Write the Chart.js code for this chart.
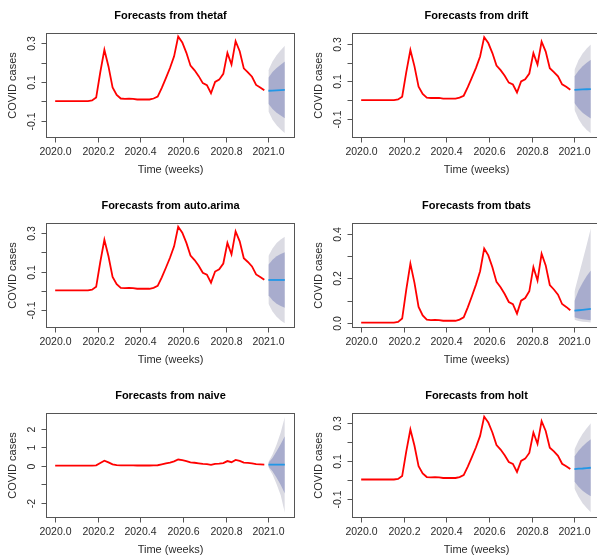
<!DOCTYPE html>
<html>
<head>
<meta charset="utf-8">
<script src="https://cdn.jsdelivr.net/npm/chart.js@4.4.1/dist/chart.umd.min.js"></script>
<style>
  html, body { margin: 0; padding: 0; background: #fff; width: 597px; height: 557px; overflow: hidden; }
  body { position: relative; }
  canvas { position: absolute; }
</style>
</head>
<body>
<canvas id="thetaf" width="300" height="190" style="left:0px;top:-7px"></canvas>
<canvas id="drift" width="300" height="190" style="left:306px;top:-7px"></canvas>
<canvas id="arima" width="300" height="190" style="left:0px;top:183px"></canvas>
<canvas id="tbats" width="300" height="190" style="left:306px;top:183px"></canvas>
<canvas id="naive" width="300" height="190" style="left:0px;top:373px"></canvas>
<canvas id="holt" width="300" height="190" style="left:306px;top:373px"></canvas>
<script>
// serie semanal (frecuencia 52, empieza en 2020.0)
const casosCovid = [0.002, 0.002, 0.002, 0.002, 0.002, 0.002, 0.002, 0.002, 0.002, 0.005,
    0.02, 0.15, 0.266, 0.18, 0.072, 0.034, 0.015, 0.013, 0.014, 0.013,
    0.010, 0.010, 0.010, 0.010, 0.015, 0.025, 0.07, 0.12, 0.172, 0.232,
    0.334, 0.303, 0.25, 0.184, 0.16, 0.13, 0.094, 0.084, 0.042, 0.10,
    0.112, 0.142, 0.25, 0.19, 0.31, 0.258, 0.17, 0.15, 0.127, 0.085,
    0.072, 0.057];

// pronosticos a 5 semanas: media, 80% y 95%
const thetafMedia = [0.055, 0.056, 0.057, 0.058, 0.059];
const thetafLo80 = [-0.012, -0.039, -0.058, -0.073, -0.087];
const thetafHi80 = [0.122, 0.151, 0.172, 0.189, 0.205];
const thetafLo95 = [-0.050, -0.094, -0.123, -0.145, -0.163];
const thetafHi95 = [0.160, 0.206, 0.237, 0.263, 0.287];

const driftMedia = [0.056, 0.057, 0.058, 0.059, 0.060];
const driftLo80 = [-0.014, -0.043, -0.065, -0.081, -0.095];
const driftHi80 = [0.126, 0.157, 0.181, 0.199, 0.215];
const driftLo95 = [-0.049, -0.098, -0.132, -0.156, -0.173];
const driftHi95 = [0.161, 0.212, 0.248, 0.274, 0.295];

const arimaMedia = [0.056, 0.056, 0.056, 0.056, 0.056];
const arimaLo80 = [-0.024, -0.050, -0.068, -0.080, -0.089];
const arimaHi80 = [0.136, 0.162, 0.180, 0.192, 0.201];
const arimaLo95 = [-0.069, -0.109, -0.137, -0.156, -0.170];
const arimaHi95 = [0.181, 0.221, 0.249, 0.268, 0.282];

const tbatsMedia = [0.055, 0.057, 0.059, 0.061, 0.063];
const tbatsLo80 = [0.026, 0.020, 0.017, 0.014, 0.012];
const tbatsHi80 = [0.098, 0.145, 0.180, 0.210, 0.235];
const tbatsLo95 = [0.015, 0.009, 0.006, 0.004, 0.002];
const tbatsHi95 = [0.140, 0.210, 0.280, 0.350, 0.425];

const naiveMedia = [0.057, 0.057, 0.057, 0.057, 0.057];
const naiveLo80 = [-0.05, -0.30, -0.65, -1.05, -1.50];
const naiveHi80 = [0.16, 0.42, 0.78, 1.18, 1.60];
const naiveLo95 = [-0.10, -0.48, -1.00, -1.60, -2.55];
const naiveHi95 = [0.20, 0.60, 1.15, 1.80, 2.64];

const holtMedia = [0.057, 0.059, 0.060, 0.062, 0.064];
const holtLo80 = [-0.009, -0.036, -0.057, -0.073, -0.086];
const holtHi80 = [0.123, 0.154, 0.177, 0.197, 0.214];
const holtLo95 = [-0.046, -0.089, -0.123, -0.149, -0.171];
const holtHi95 = [0.160, 0.207, 0.243, 0.273, 0.299];

// etiquetas de los ejes
const ticksX = [2020.0, 2020.2, 2020.4, 2020.6, 2020.8, 2021.0];
const ticksYCasos = [-0.1, 0.0, 0.1, 0.2, 0.3];
const etiquetasYCasos = ['-0.1', '', '0.1', '', '0.3'];
const ticksYTbats = [0.0, 0.1, 0.2, 0.3, 0.4];
const etiquetasYTbats = ['0.0', '', '0.2', '', '0.4'];
const ticksYNaive = [-2, -1, 0, 1, 2];
const etiquetasYNaive = ['-2', '', '0', '1', '2'];

const fuente = "'Liberation Sans', Arial, sans-serif";
const colorTexto = '#2a2a2a';
const colorCaja = '#555555';

function tiempos(inicio, n) {
    let lista = [];
    for (let i = 0; i < n; ++i) {
        lista.push(inicio + i / 52);
    }
    return lista;
}

function puntos(valores, inicio) {
    let xs = tiempos(inicio, valores.length);
    return valores.map((v, i) => ({x: xs[i], y: v}));
}

// caja, marcas y textos al estilo de plot() en R
const ejesR = {
    id: 'ejesR',
    afterDraw(chart, args, opts) {
        const {ctx, chartArea: a, scales: {x, y}} = chart;
        const izq = Math.round(a.left) + 0.5;
        const der = Math.round(a.right) + 0.5;
        const arr = Math.round(a.top) + 0.5;
        const abj = Math.round(a.bottom) + 0.5;
        ctx.save();
        ctx.strokeStyle = colorCaja;
        ctx.lineWidth = 1;
        ctx.strokeRect(izq, arr, der - izq, abj - arr);

        // eje x
        ctx.fillStyle = colorTexto;
        ctx.font = '10.5px ' + fuente;
        ctx.textAlign = 'center';
        ctx.textBaseline = 'middle';
        ctx.beginPath();
        for (let t of ticksX) {
            let px = Math.round(x.getPixelForValue(t)) + 0.5;
            ctx.moveTo(px, abj);
            ctx.lineTo(px, abj + 5);
            ctx.fillText(t.toFixed(1), px, abj + 15);
        }
        ctx.stroke();

        // eje y (etiquetas giradas como en R)
        ctx.beginPath();
        opts.ticksY.forEach((t, i) => {
            let py = Math.round(y.getPixelForValue(t)) + 0.5;
            ctx.moveTo(izq, py);
            ctx.lineTo(izq - 5, py);
            if (opts.etiquetasY[i] != '') {
                ctx.save();
                ctx.translate(izq - 14, py);
                ctx.rotate(-Math.PI / 2);
                ctx.fillText(opts.etiquetasY[i], 0, 0);
                ctx.restore();
            }
        });
        ctx.stroke();

        ctx.font = '11px ' + fuente;
        ctx.fillText('Time (weeks)', (izq + der) / 2, abj + 32.5);
        ctx.save();
        ctx.translate(12.5, (arr + abj) / 2);
        ctx.rotate(-Math.PI / 2);
        ctx.fillText('COVID cases', 0, 0);
        ctx.restore();

        ctx.fillStyle = '#000';
        ctx.font = 'bold 11px ' + fuente;
        ctx.fillText(opts.titulo, (izq + der) / 2, arr - 18);
        ctx.restore();
    }
};

function crearGrafico(idChart, titulo, media, lo80, hi80, lo95, hi95, minY, maxY, ticksY, etiquetasY) {
    let elementoDOM = document.getElementById(idChart).getContext('2d');
    let linea = {pointRadius: 0, borderWidth: 0, tension: 0};
    new Chart(elementoDOM, {
        type: 'line',
        data: {
            datasets: [
                {...linea, data: puntos(hi95, 2021), fill: '+1', backgroundColor: '#dbdbe3', order: 5},
                {...linea, data: puntos(lo95, 2021), fill: false, order: 4},
                {...linea, data: puntos(hi80, 2021), fill: '+1', backgroundColor: '#a8accd', order: 3},
                {...linea, data: puntos(lo80, 2021), fill: false, order: 2},
                {...linea, data: puntos(media, 2021), borderColor: '#2297e6', borderWidth: 1.8, order: 1},
                {...linea, data: puntos(casosCovid, 2020), borderColor: '#ff0000', borderWidth: 1.8, order: 0}
            ]
        },
        options: {
            responsive: false,
            animation: false,
            devicePixelRatio: 1,
            layout: {padding: {left: 46, right: 6, top: 40, bottom: 46}},
            scales: {
                x: {type: 'linear', display: false, min: 2019.957, max: 2021.12},
                y: {type: 'linear', display: false, min: minY, max: maxY}
            },
            plugins: {
                legend: false,
                tooltip: {enabled: false},
                ejesR: {titulo: titulo, ticksY: ticksY, etiquetasY: etiquetasY}
            }
        },
        plugins: [ejesR]
    });
}

crearGrafico('thetaf', 'Forecasts from thetaf', thetafMedia, thetafLo80, thetafHi80, thetafLo95, thetafHi95,
    -0.183, 0.352, ticksYCasos, etiquetasYCasos);
crearGrafico('drift', 'Forecasts from drift', driftMedia, driftLo80, driftHi80, driftLo95, driftHi95,
    -0.193, 0.356, ticksYCasos, etiquetasYCasos);
crearGrafico('arima', 'Forecasts from auto.arima', arimaMedia, arimaLo80, arimaHi80, arimaLo95, arimaHi95,
    -0.190, 0.354, ticksYCasos, etiquetasYCasos);
crearGrafico('tbats', 'Forecasts from tbats', tbatsMedia, tbatsLo80, tbatsHi80, tbatsLo95, tbatsHi95,
    -0.018, 0.448, ticksYTbats, etiquetasYTbats);
crearGrafico('naive', 'Forecasts from naive', naiveMedia, naiveLo80, naiveHi80, naiveLo95, naiveHi95,
    -2.78, 2.855, ticksYNaive, etiquetasYNaive);
crearGrafico('holt', 'Forecasts from holt', holtMedia, holtLo80, holtHi80, holtLo95, holtHi95,
    -0.196, 0.353, ticksYCasos, etiquetasYCasos);
</script>
</body>
</html>
